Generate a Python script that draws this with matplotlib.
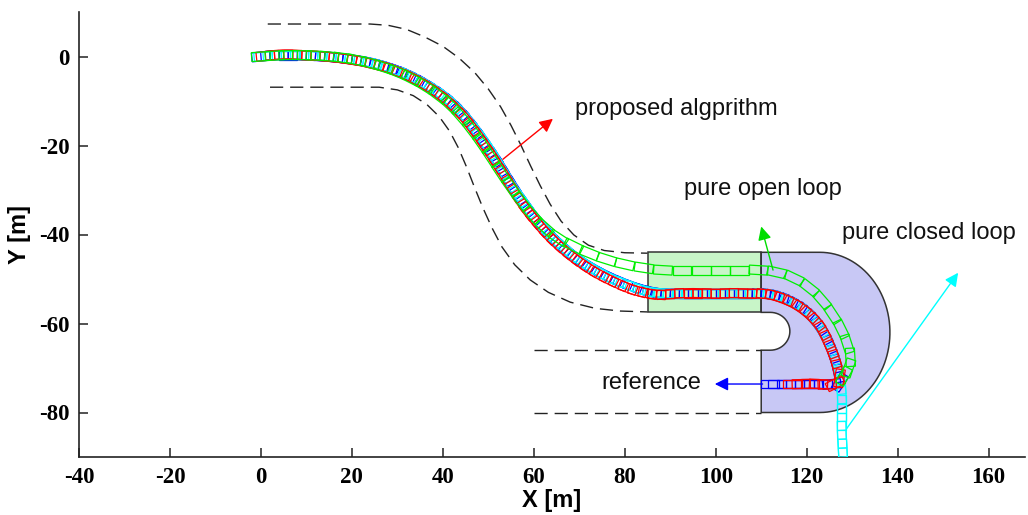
import numpy as np
import matplotlib
matplotlib.use('Agg')
import matplotlib.pyplot as plt
from matplotlib.patches import Rectangle, PathPatch
from matplotlib.path import Path

plt.rcParams['axes.unicode_minus'] = False

# ---------------- data ----------------
x_ticks = [-40, -20, 0, 20, 40, 60, 80, 100, 120, 140, 160]
y_ticks = [-80, -60, -40, -20, 0]
x_range = (-40, 168)
y_range = (-90, 10)

road_upper = [(1.5, 7.3), (12, 7.3), (24, 7.3), (28, 7.0), (32, 6.1), (36, 4.4), (40, 2.3),
              (43.5, -0.3), (47, -3.6), (50, -7.3), (52.7, -11.3), (55, -15.5), (57.2, -20),
              (59.3, -24.6), (61.4, -29), (63.6, -33.2), (66, -37), (68.8, -40.1), (72, -42.4),
              (75.5, -43.6), (80, -44.1), (85, -44.2)]
road_lower = [(2, -6.9), (14, -6.9), (26, -6.9), (30, -7.5), (33.5, -8.8), (36.5, -10.8),
              (39.2, -13.5), (41.5, -16.8), (43.4, -20.5), (45.2, -24.8), (47, -29.5),
              (48.8, -34), (50.8, -38.5), (53, -42.8), (55.8, -46.8), (59.2, -50.2),
              (63.2, -53), (68, -55.2), (73.5, -56.6), (79, -57.2), (85, -57.4)]
slot_lines_y = [-66, -80]
slot_lines_x = [60, 110]

green_zone_x = [85, 110]
green_zone_y = [-57.5, -44]
blue_zone_x = [110, 122.9, 138.3]   # left edge, start of round end, rightmost point
blue_zone_y = [-80, -44]
notch_x = [110, 112, 116.3]
notch_y = [-66, -57.5]

reference_xy = [(0, 0), (2, 0.2), (4, 0.3), (6, 0.3), (8, 0.3), (10, 0.2), (12, 0.1), (14, 0),
    (16, -0.2), (18, -0.4), (20, -0.7), (22, -1.0), (24, -1.4), (26, -1.9), (28, -2.5),
    (30, -3.2), (32, -4.0), (34, -5.0), (36, -6.1), (38, -7.4), (40, -8.8), (42, -10.5),
    (43.8, -12.3), (45.5, -14.3), (47.1, -16.4), (48.6, -18.5), (50, -20.6), (51.4, -22.7),
    (52.7, -24.8), (54, -27), (55.3, -29.1), (56.6, -31.2), (58, -33.2), (59.4, -35.2),
    (60.9, -37.1), (62.5, -38.9), (64.1, -40.7), (65.8, -42.3), (67.6, -43.9), (69.5, -45.4),
    (71.4, -46.7), (73.4, -47.9), (75.4, -49), (77.5, -50), (79.6, -50.9), (81.7, -51.7),
    (83.9, -52.4), (86, -52.9), (88, -53.2), (90, -53.3), (92, -53.3), (94, -53.3),
    (96, -53.3), (98, -53.3), (100, -53.3), (102, -53.3), (104, -53.3), (106, -53.3),
    (108, -53.3), (110, -53.3), (112, -53.5), (114, -54), (116, -54.8), (118, -55.9),
    (119.8, -57.2), (121.4, -58.8), (122.8, -60.6), (124, -62.6), (125, -64.7),
    (125.8, -66.8), (126.5, -69), (127, -71.2), (127.3, -73.2), (125.5, -73.6),
    (123.5, -73.6), (121.5, -73.6), (119.5, -73.6), (117.5, -73.6), (115.5, -73.6),
    (113.5, -73.6), (112, -73.6)]

proposed_xy = [(1, 0.1), (3, 0.3), (5, 0.4), (7, 0.4), (9, 0.3), (11, 0.2), (13, 0.1),
    (15, -0.1), (17, -0.3), (19, -0.6), (21, -0.9), (23, -1.3), (25, -1.8), (27, -2.3),
    (29, -3), (31, -3.8), (33, -4.7), (35, -5.8), (37, -7), (39, -8.4), (41, -10),
    (42.9, -11.8), (44.7, -13.7), (46.3, -15.8), (47.9, -18), (49.3, -20.1), (50.7, -22.2),
    (52, -24.3), (53.4, -26.5), (54.7, -28.7), (56, -30.8), (57.3, -32.8), (58.7, -34.8),
    (60.2, -36.7), (61.7, -38.5), (63.3, -40.3), (65, -42), (66.8, -43.6), (68.6, -45.1),
    (70.5, -46.5), (72.4, -47.8), (74.4, -49), (76.5, -50.1), (78.6, -51.1), (80.7, -52),
    (82.8, -52.7), (85, -53.2), (87, -53.5), (89, -53.5), (91, -53.3), (93, -53.2),
    (95, -53.2), (97, -53.2), (99, -53.3), (101, -53.3), (103, -53.2), (105, -53.2),
    (107, -53.3), (109, -53.3), (111, -53.4), (113, -53.8), (115, -54.5), (117, -55.4),
    (118.9, -56.6), (120.6, -58), (122.2, -59.7), (123.5, -61.6), (124.5, -63.7),
    (125.4, -65.8), (126.2, -68), (126.8, -70.2), (127.2, -72.3), (126.3, -73.5),
    (124.5, -73.7), (122.6, -73.6), (120.7, -73.5), (118.8, -73.6), (116.9, -73.6)]

closed_loop_xy = [(0.5, 0), (2.5, 0.2), (4.5, 0.3), (6.5, 0.3), (8.5, 0.3), (10.5, 0.2),
    (12.5, 0.1), (14.5, 0), (16.5, -0.2), (18.5, -0.5), (20.5, -0.8), (22.5, -1.1),
    (24.5, -1.5), (26.5, -2), (28.5, -2.7), (30.5, -3.4), (32.5, -4.2), (34.5, -5.3),
    (36.5, -6.4), (38.5, -7.7), (40.5, -9.2), (42.4, -10.9), (44.2, -12.8), (45.9, -14.8),
    (47.5, -16.9), (49, -19), (50.4, -21.1), (51.7, -23.2), (53, -25.4), (54.3, -27.6),
    (55.6, -29.7), (57, -31.7), (58.4, -33.7), (59.8, -35.7), (61.3, -37.5), (62.9, -39.4),
    (64.5, -41.1), (66.3, -42.7), (68.1, -44.3), (70, -45.7), (71.9, -47), (73.9, -48.2),
    (75.9, -49.3), (78, -50.3), (80.1, -51.1), (82.2, -51.9), (84.4, -52.6), (86.5, -53),
    (88.5, -53.2), (90.5, -53.3), (92.5, -53.3), (94.5, -53.3), (96.5, -53.3), (98.5, -53.3),
    (100.5, -53.3), (102.5, -53.3), (104.5, -53.3), (106.5, -53.3), (108.5, -53.3),
    (110.5, -53.3), (112.5, -53.6), (114.5, -54.2), (116.5, -55.1), (118.4, -56.2),
    (120.2, -57.6), (121.8, -59.3), (123.1, -61.1), (124.2, -63.1), (125.2, -65.2),
    (126, -67.3), (126.7, -69.5), (127.2, -71.7), (127.5, -73.9), (127.7, -76), (127.7, -78),
    (127.7, -80), (127.7, -82), (127.7, -84), (127.8, -86), (127.9, -88), (128, -90)]

open_loop_xy = [(0, 0), (3, 0.2), (6, 0.3), (9, 0.3), (12, 0.2), (15, 0), (18, -0.3),
    (21, -0.8), (24, -1.5), (27, -2.4), (30, -3.5), (33, -4.9), (36, -6.6), (39, -8.7),
    (41.6, -10.9), (44, -13.5), (46.3, -16.4), (48.5, -19.5), (50.6, -22.7), (52.7, -26),
    (54.9, -29.3), (57.2, -32.5), (59.7, -35.6), (62.4, -38.4), (65.4, -40.8), (68.7, -42.6),
    (72.2, -44.2), (76, -45.6), (80, -46.7), (84.2, -47.5), (88.4, -48), (92.6, -48),
    (96.8, -48), (101, -48), (105.2, -48), (109.4, -48), (113.4, -48.5), (117.2, -49.8),
    (120.6, -52), (123.4, -54.8), (125.7, -58), (127.6, -61.3), (128.9, -64.6),
    (129.6, -67.6), (129.2, -70), (128.2, -71.8)]

# annotation arrows: (base, tip)
arrow_proposed = [(53.2, -23.1), (64.2, -14.0)]
arrow_open = [(112.6, -48.0), (110.0, -38.2)]
arrow_closed = [(128.8, -83.6), (153.3, -48.6)]
arrow_reference = [(110.3, -73.6), (99.8, -73.6)]

labels = ['proposed algprithm', 'pure open loop', 'pure closed loop', 'reference']
label_pos = [(69, -11.8), (93, -29.7), (127.7, -39.6), (74.9, -73.3)]

# ---------------- figure ----------------
fig = plt.figure(figsize=(10.28, 5.15), dpi=100)
ax = fig.add_axes([79 / 1028, 58 / 515, 946 / 1028, 445 / 515])
ax.set_xlim(*x_range)
ax.set_ylim(*y_range)

edge_col = '#333333'

# green zone
ax.add_patch(Rectangle((green_zone_x[0], green_zone_y[0]), green_zone_x[1] - green_zone_x[0],
                       green_zone_y[1] - green_zone_y[0], facecolor='#c8f5c8',
                       edgecolor=edge_col, lw=1.1, zorder=1))

# blue parking zone with notch
cy = (blue_zone_y[0] + blue_zone_y[1]) / 2
ry = (blue_zone_y[1] - blue_zone_y[0]) / 2
rx = blue_zone_x[2] - blue_zone_x[1]
t1 = np.linspace(np.pi / 2, -np.pi / 2, 60)
ncy = (notch_y[0] + notch_y[1]) / 2
nry = (notch_y[1] - notch_y[0]) / 2
nrx = notch_x[2] - notch_x[1]
t2 = np.linspace(-np.pi / 2, np.pi / 2, 30)
verts = [(blue_zone_x[0], blue_zone_y[1])]
verts += list(zip(blue_zone_x[1] + rx * np.cos(t1), cy + ry * np.sin(t1)))
verts += [(blue_zone_x[0], blue_zone_y[0]), (notch_x[0], notch_y[0])]
verts += list(zip(notch_x[1] + nrx * np.cos(t2), ncy + nry * np.sin(t2)))
verts += [(notch_x[0], notch_y[1]), (blue_zone_x[0], blue_zone_y[1])]
codes = [Path.MOVETO] + [Path.LINETO] * (len(verts) - 2) + [Path.CLOSEPOLY]
ax.add_patch(PathPatch(Path(verts, codes), facecolor='#c8c8f5', edgecolor=edge_col,
                       lw=1.1, zorder=1))

# dashed road boundaries
dash = (0, (9.5, 5))
for pts in (road_upper, road_lower):
    ax.plot([p[0] for p in pts], [p[1] for p in pts], color='#222222', lw=1.0,
            linestyle=dash, zorder=2)
for yy in slot_lines_y:
    ax.plot(slot_lines_x, [yy, yy], color='#222222', lw=1.0, linestyle=dash, zorder=2)


def draw_vehicles(pts, color, L, W, z):
    x = np.array([p[0] for p in pts], dtype=float)
    y = np.array([p[1] for p in pts], dtype=float)
    ang = np.degrees(np.arctan2(np.gradient(y), np.gradient(x)))
    for cx_, cy_, a in zip(x, y, ang):
        ax.add_patch(Rectangle((cx_ - L / 2, cy_ - W / 2), L, W, angle=a,
                               rotation_point='center', fill=False, edgecolor=color,
                               lw=0.9, zorder=z))


draw_vehicles(reference_xy, '#0000ff', 4.0, 2.0, 3)
draw_vehicles(closed_loop_xy, '#00ffff', 4.0, 1.9, 4)
draw_vehicles(proposed_xy, '#ff0000', 4.0, 2.0, 5)
draw_vehicles(open_loop_xy, '#00ee00', 4.1, 2.0, 6)

for (base, tip), col in zip([arrow_proposed, arrow_open, arrow_closed, arrow_reference],
                            ['#ff0000', '#00dd00', '#00ffff', '#0000ff']):
    ax.annotate('', xy=tip, xytext=base,
                arrowprops=dict(arrowstyle='-|>', color=col, lw=1.0, mutation_scale=20,
                                shrinkA=0, shrinkB=0), zorder=7)

for txt, (tx, ty) in zip(labels, label_pos):
    ax.text(tx, ty, txt, fontsize=17, family='Liberation Sans', ha='left', va='center',
            color='#111111', zorder=8)

# axes styling
for s in ('top', 'right'):
    ax.spines[s].set_visible(False)
for s in ('left', 'bottom'):
    ax.spines[s].set_linewidth(1.2)
    ax.spines[s].set_color('#222222')
ax.set_xticks(x_ticks)
ax.set_yticks(y_ticks)
ax.tick_params(direction='in', length=6.5, width=1.1, color='#222222', pad=7)
ax.tick_params(axis='x', pad=7.5)
for lab in ax.get_xticklabels() + ax.get_yticklabels():
    lab.set_fontfamily('Liberation Serif')
    lab.set_fontweight('bold')
    lab.set_fontsize(16.5)
ax.set_xlabel('X [m]', fontsize=17, fontweight='bold', family='Liberation Sans')
ax.set_ylabel('Y [m]', fontsize=17, fontweight='bold', family='Liberation Sans')
ax.xaxis.set_label_coords(0.5, -0.097)
ax.yaxis.set_label_coords(-0.0625, 0.5)
ax.xaxis.label.set_va('center')
ax.yaxis.label.set_va('center')

fig.savefig('out.png', dpi=100)
